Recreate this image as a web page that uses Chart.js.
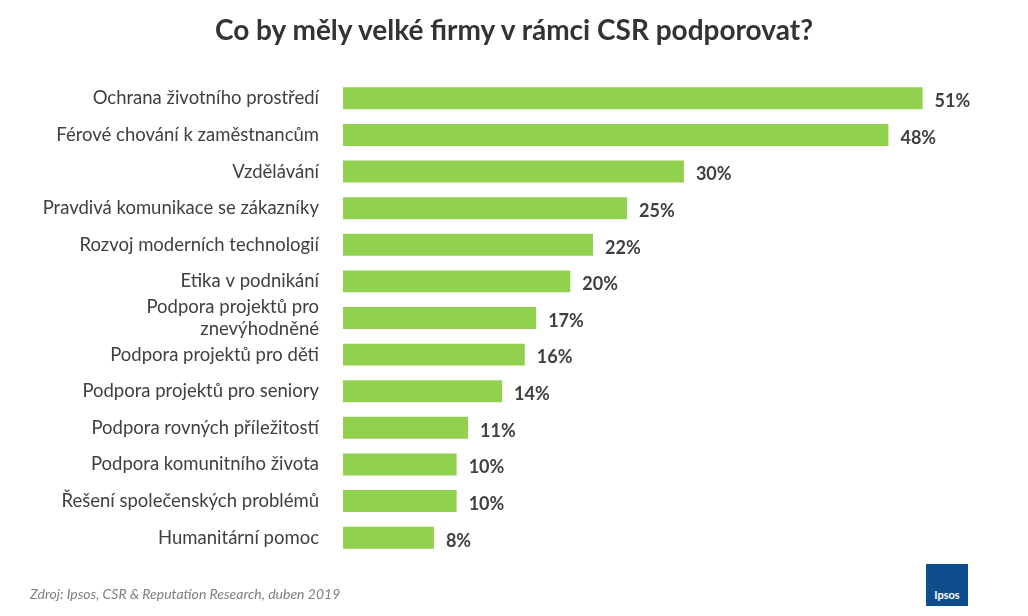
<!DOCTYPE html>
<html><head><meta charset="utf-8">
<script src="https://cdn.jsdelivr.net/npm/chart.js@4"></script>
<style>
body{margin:0;width:1028px;height:616px;background:#fff;position:relative;overflow:hidden;font-family:Lato,"Open Sans",sans-serif}
#c{position:absolute;left:0;top:0}
#t{position:absolute;top:12px;left:0;width:1028px;text-align:center;font-weight:bold;font-size:28px;color:#333}
#f{position:absolute;left:30px;top:585px;font-style:italic;font-size:14px;color:#7f7f7f}
#logo{position:absolute;left:926px;top:564px;width:42px;height:42px;background:#0f4d8c;color:#fff;font-size:11px;font-weight:bold;text-align:center;line-height:62px}
</style></head><body>
<canvas id="c" width="1028" height="616"></canvas>
<div id="t">Co by měly velké firmy v rámci CSR podporovat?</div>
<div id="f">Zdroj: Ipsos, CSR &amp; Reputation Research, duben 2019</div>
<div id="logo">Ipsos</div>
<script>
const categories=["Ochrana životního prostředí","Férové chování k zaměstnancům","Vzdělávání","Pravdivá komunikace se zákazníky","Rozvoj moderních technologií","Etika v podnikání",["Podpora projektů pro","znevýhodněné"],"Podpora projektů pro děti","Podpora projektů pro seniory","Podpora rovných příležitostí","Podpora komunitního života","Řešení společenských problémů","Humanitární pomoc"];
const values=[51,48,30,25,22,20,17,16,14,11,10,10,8];
const labelPlugin={id:'lbl',afterDatasetsDraw(ch){const ctx=ch.ctx;const m=ch.getDatasetMeta(0);ctx.save();ctx.font='bold 18px Lato, "Open Sans", sans-serif';ctx.fillStyle='#404040';ctx.textBaseline='middle';m.data.forEach((b,i)=>{ctx.fillText(values[i]+'%',b.x+12,b.y+3);});ctx.restore();}};
new Chart(document.getElementById('c'),{type:'bar',data:{labels:categories,datasets:[{data:values,backgroundColor:'#92d050',barPercentage:0.6,categoryPercentage:1}]},
options:{indexAxis:'y',responsive:false,animation:false,layout:{padding:{top:80,bottom:60,right:60,left:0}},
plugins:{legend:{display:false},tooltip:{enabled:false}},
scales:{x:{display:false,min:0,max:55},y:{grid:{display:false},border:{display:false},afterFit(s){s.width=343;},ticks:{autoSkip:false,padding:16,color:'#404040',font:{size:18.5,family:'Lato, "Open Sans", sans-serif'}}}}},plugins:[labelPlugin]});
</script></body></html>
